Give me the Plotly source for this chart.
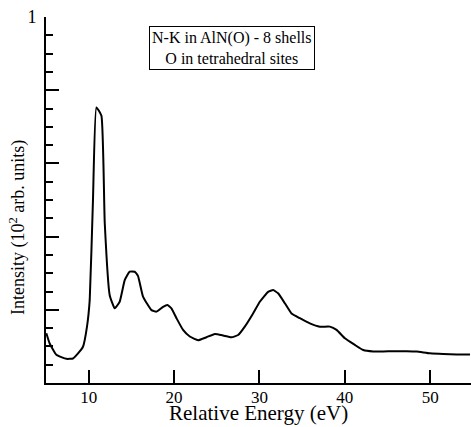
import plotly.graph_objects as go

energy = [5.04, 5.43, 6.21, 7.39, 8.16, 8.75, 9.33, 9.80, 10.12, 10.50, 10.90, 11.49, 11.88,
          12.46, 13.05, 13.63, 14.22, 14.80, 15.39, 15.78, 16.36, 17.35, 17.93, 18.71, 19.22,
          19.69, 20.28, 21.05, 21.84, 22.81, 23.79, 24.77, 25.74, 26.72, 27.50, 28.28, 29.25,
          30.04, 31.01, 31.60, 32.18, 32.97, 33.75, 34.73, 35.90, 37.07, 38.24, 39.03, 40.00,
          41.17, 42.15, 43.32, 44.49, 45.66, 47.23, 48.40, 49.96, 51.52, 53.09, 54.65]
intensity = [0.136, 0.108, 0.077, 0.066, 0.067, 0.081, 0.099, 0.154, 0.227, 0.500, 0.753, 0.730,
             0.437, 0.240, 0.204, 0.222, 0.281, 0.304, 0.304, 0.292, 0.236, 0.199, 0.195, 0.208,
             0.213, 0.204, 0.177, 0.145, 0.127, 0.117, 0.125, 0.134, 0.130, 0.125, 0.131, 0.154,
             0.190, 0.222, 0.249, 0.254, 0.245, 0.218, 0.190, 0.177, 0.163, 0.154, 0.154, 0.145,
             0.122, 0.104, 0.090, 0.086, 0.086, 0.087, 0.087, 0.086, 0.081, 0.079, 0.078, 0.078]

x_ticks = [10, 20, 30, 40, 50]
y_ticks = [0, 0.2, 0.4, 0.6, 0.8, 1.0]
y_ticktext = ["", "", "", "", "", "1"]

FONT = "Liberation Serif, Times New Roman, serif"

fig = go.Figure()
fig.add_trace(go.Scatter(x=energy, y=intensity, mode="lines",
                         line=dict(color="black", width=2, shape="spline", smoothing=0.4),
                         showlegend=False, hoverinfo="skip"))

fig.update_layout(
    width=471, height=427,
    margin=dict(l=46, r=0, t=17, b=44),
    paper_bgcolor="white", plot_bgcolor="white",
    font=dict(family=FONT, color="black", size=17),
    xaxis=dict(range=[5, 54.77], tickvals=x_ticks, ticks="inside", ticklen=13,
               tickwidth=1.5, tickcolor="black", showline=True, linecolor="black",
               linewidth=2, showgrid=False, zeroline=False, mirror=False,
               tickfont=dict(size=17, family=FONT), ticklabelstandoff=-2),
    yaxis=dict(range=[0, 1], tickvals=y_ticks, ticktext=y_ticktext, ticks="inside",
               ticklen=13, tickwidth=1.5, tickcolor="black", showline=True,
               linecolor="black", linewidth=2, showgrid=False, zeroline=False,
               mirror=False, tickfont=dict(size=18, family=FONT), ticklabelstandoff=4,
               minor=dict(dtick=0.05, ticks="inside", ticklen=7, tickwidth=1.5,
                          tickcolor="black", showgrid=False)),
    annotations=[
        dict(text="N-K in AlN(O) - 8 shells<br>O in tetrahedral sites",
             xref="paper", yref="paper", x=0.4376, y=0.914,
             xanchor="center", yanchor="middle", showarrow=False,
             font=dict(size=16, family=FONT, color="black"),
             bordercolor="black", borderwidth=1, borderpad=2, bgcolor="white"),
        dict(text="Relative Energy (eV)", xref="paper", yref="paper",
             x=0.5, y=-0.082, xanchor="center", yanchor="middle", showarrow=False,
             font=dict(size=21, family=FONT, color="black")),
        dict(text="Intensity (10<sup>2</sup> arb. units)", xref="paper", yref="paper",
             x=-0.0659, y=0.426, xanchor="center", yanchor="middle", showarrow=False,
             textangle=-90, font=dict(size=18, family=FONT, color="black")),
    ],
)

fig.write_html("out.html")
